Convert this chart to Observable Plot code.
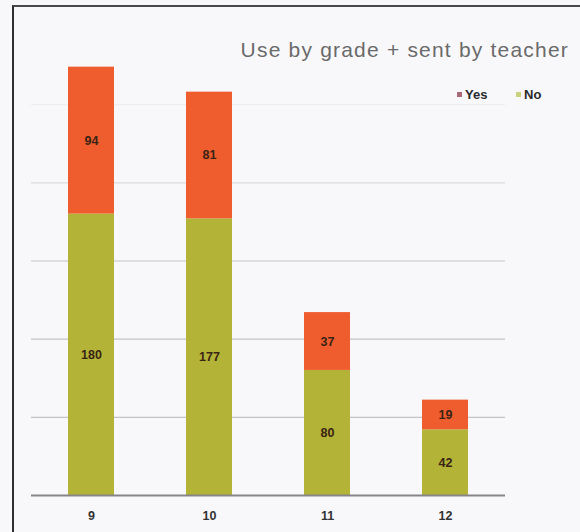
<!DOCTYPE html>
<html>
<head>
<meta charset="utf-8">
<script src="https://cdn.jsdelivr.net/npm/d3@7"></script>
<script src="https://cdn.jsdelivr.net/npm/@observablehq/plot@0.6"></script>
<style>
  html, body { margin: 0; padding: 0; background: #ffffff; }
  #wrap { position: relative; width: 580px; height: 532px; background: #f8f8fa; overflow: hidden; font-family: "Liberation Sans", Arial, sans-serif; }
  #frame { position: absolute; left: 12px; top: 5px; width: 580px; height: 540px; border-left: 2px solid #2e2e2e; border-top: 2px solid #4a4a4a; pointer-events: none; }
  #title { position: absolute; right: 11px; top: 39px; font-size: 21px; line-height: 1; letter-spacing: 1.2px; color: #6a6a6a; white-space: nowrap; }
  .leg { position: absolute; top: 88px; font-size: 13px; line-height: 1; font-weight: bold; color: #2a2a2a; white-space: nowrap; }
  .sw { position: absolute; width: 5px; height: 5px; top: 92px; }
  #chart { position: absolute; left: 0; top: 0; }
</style>
</head>
<body>
<div id="wrap">
  <div id="chart"></div>
  <div id="frame"></div>
  <div id="title"></div>
  <div id="legend"></div>
</div>
<script>
const chartTitle = "Use by grade + sent by teacher";
const grades = ["9", "10", "11", "12"];
const seriesNames = ["No", "Yes"];           // stacking order: bottom to top
const legendOrder = ["Yes", "No"];
const noValues = [180, 177, 80, 42];
const yesValues = [94, 81, 37, 19];
const gridTicks = [50, 100, 150, 200, 250];
const barColors = {Yes: "#ef5c2e", No: "#b3b338"};
const legendColors = {Yes: "#a86a78", No: "#c9d27e"};

const rows = [];
grades.forEach((g, i) => {
  rows.push({grade: g, series: "No", value: noValues[i]});
  rows.push({grade: g, series: "Yes", value: yesValues[i]});
});

const plot = Plot.plot({
  width: 580,
  height: 532,
  marginTop: 26,
  marginBottom: 37,
  marginLeft: 31,
  marginRight: 75,
  style: {background: "transparent", fontFamily: "'Liberation Sans', Arial, sans-serif"},
  x: {domain: grades, paddingInner: 0.613, paddingOuter: 0.3, label: null, tickSize: 0, tickPadding: 16},
  y: {domain: [0, 300], axis: null},
  color: {domain: seriesNames, range: seriesNames.map(s => barColors[s])},
  marks: [
    Plot.ruleY(gridTicks.filter(t => t <= 150), {stroke: "#c4c4c8", strokeWidth: 1.2}),
    Plot.ruleY(gridTicks.filter(t => t === 200), {stroke: "#dcdce0", strokeWidth: 1.2}),
    Plot.ruleY(gridTicks.filter(t => t > 200), {stroke: "#ececf0", strokeWidth: 1}),
    Plot.barY(rows, Plot.stackY({x: "grade", y: "value", fill: "series", order: seriesNames})),
    Plot.ruleY([0], {stroke: "#85858a", strokeWidth: 2}),
    Plot.text(rows, Plot.stackY({x: "grade", y: "value", z: "series", order: seriesNames, text: d => String(d.value), fill: "#3a2414", fontWeight: "bold", fontSize: 12.5})),
    Plot.axisX({tickSize: 0, tickPadding: 16, fontWeight: "bold", fontSize: 12.5, fill: "#333", label: null})
  ]
});
document.getElementById("chart").appendChild(plot);

document.getElementById("title").textContent = chartTitle;
const legend = document.getElementById("legend");
const legendX = {Yes: 457, No: 516};
legendOrder.forEach(s => {
  const sw = document.createElement("div");
  sw.className = "sw";
  sw.style.left = legendX[s] + "px";
  sw.style.background = legendColors[s];
  legend.appendChild(sw);
  const t = document.createElement("div");
  t.className = "leg";
  t.style.left = (legendX[s] + 8) + "px";
  t.textContent = s;
  legend.appendChild(t);
});
</script>
</body>
</html>
